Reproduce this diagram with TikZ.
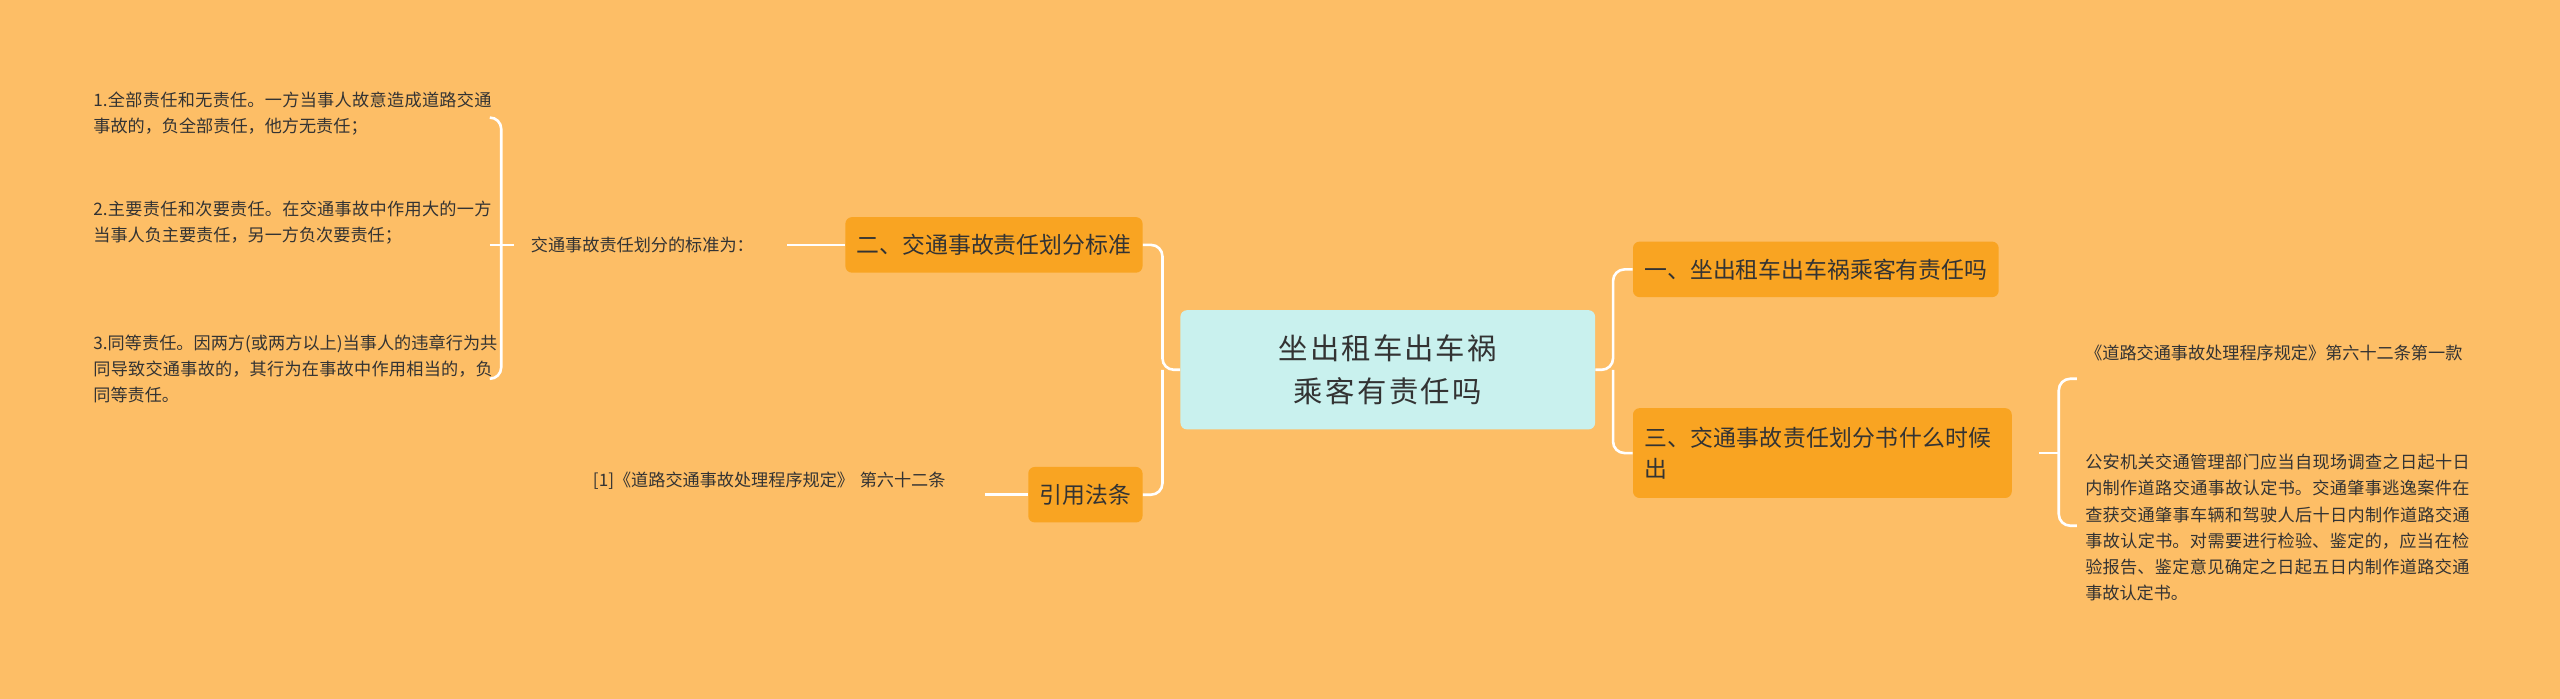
\documentclass[tikz,border=0pt]{standalone}
\usepackage{fontspec}
\setmainfont{Noto Sans CJK SC}
\XeTeXlinebreaklocale "zh"
\XeTeXlinebreakskip=0pt plus 1pt
\begin{document}
\begin{tikzpicture}[x=1pt,y=-1pt,
  conn/.style={draw=white,line width=1.6pt,rounded corners=7pt},
  orangebox/.style={fill=mainor,rounded corners=4pt,text=black!80,font=\fontsize{14}{19}\selectfont,inner sep=7pt},
  txt/.style={text=black!80,font=\fontsize{10.5}{16}\selectfont,align=left,inner sep=0pt,anchor=north west}]
\definecolor{mainor}{HTML}{F9A422}
\definecolor{bg}{HTML}{FDBE66}
\definecolor{cen}{HTML}{C9F1EE}
\fill[bg] (0,0) rectangle (1568,428);
\useasboundingbox (0,0) rectangle (1568,428);
\node[fill=cen,rounded corners=4pt,minimum width=254pt,minimum height=73pt,text width=225pt,align=center,font=\fontsize{18}{26}\selectfont,text=black!80] (c) at (850,226.5) {坐出租车出车祸乘客有责任吗};
\node[orangebox,anchor=west,minimum height=34pt] (r1) at (1000,165) {一、坐出租车出车祸乘客有责任吗};
\node[orangebox,anchor=west,minimum height=55pt,text width=218pt,align=left] (r3) at (1000,277.5) {三、交通事故责任划分书什么时候出};
\node[orangebox,anchor=east,minimum height=34pt] (l2) at (700,150) {二、交通事故责任划分标准};
\node[orangebox,anchor=east,minimum height=34pt] (l3) at (700,303) {引用法条};
\node[txt,anchor=west] (std) at (325,150) {交通事故责任划分的标准为：};
\node[txt,text width=248pt] (i1) at (57,56) {1.全部责任和无责任。一方当事人故意造成道路交通事故的，负全部责任，他方无责任；};
\node[txt,text width=248pt] (i2) at (57,123) {2.主要责任和次要责任。在交通事故中作用大的一方当事人负主要责任，另一方负次要责任；};
\node[txt,text width=248pt] (i3) at (57,205) {3.同等责任。因两方(或两方以上)当事人的违章行为共同导致交通事故的，其行为在事故中作用相当的，负同等责任。};
\node[txt,text width=236pt] (ref) at (363,289) {[1]《道路交通事故处理程序规定》 第六十二条};
\node[txt,text width=240pt] (t1) at (1277,211) {《道路交通事故处理程序规定》第六十二条第一款};
\node[txt,text width=240pt] (t2) at (1277,278) {公安机关交通管理部门应当自现场调查之日起十日内制作道路交通事故认定书。交通肇事逃逸案件在查获交通肇事车辆和驾驶人后十日内制作道路交通事故认定书。对需要进行检验、鉴定的，应当在检验报告、鉴定意见确定之日起五日内制作道路交通事故认定书。};
\draw[conn] (c.west) -- (712,226.5) |- (l2.east);
\draw[conn] (712,226.5) |- (l3.east);
\draw[conn] (c.east) -- (988,226.5) |- (r1.west);
\draw[conn] (988,226.5) |- (r3.west);
\draw[conn] (l2.west) -- (482,150);
\draw[conn] (l3.west) -- (603,303);
\draw[conn] (300,72) -| (307,150) |- (300,232);
\draw[conn] (300,150) -- (315,150);
\draw[conn] (1272,232) -| (1261,277.5) |- (1272,322);
\draw[conn] (1249,277.5) -- (1261,277.5);
\end{tikzpicture}
\end{document}
